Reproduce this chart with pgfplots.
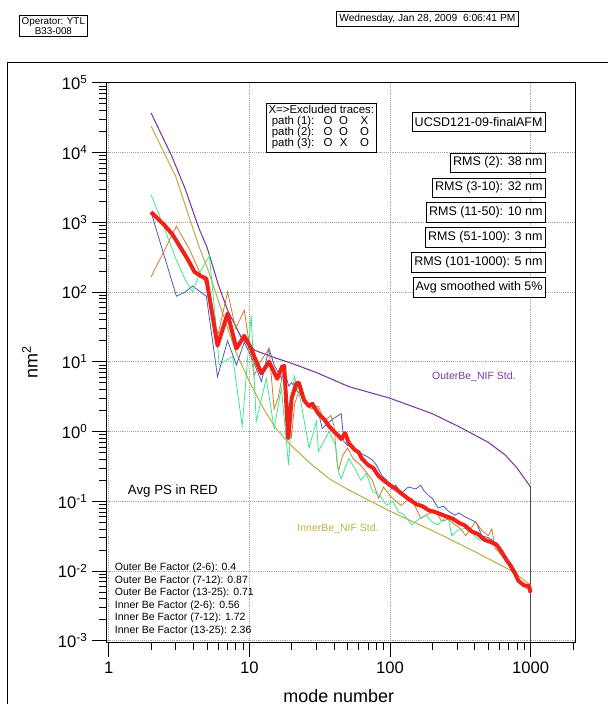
\documentclass[border=0pt]{standalone}
\usepackage{pgfplots}
\pgfplotsset{compat=1.18}
\usepackage{fontspec}
\setmainfont{Liberation Sans}

\definecolor{cblue}{HTML}{4A5AB8}
\definecolor{corange}{HTML}{D2792A}
\definecolor{cgreen}{HTML}{3DE88A}
\definecolor{cred}{HTML}{F0201A}
\definecolor{cpurple}{HTML}{7A3A9E}
\definecolor{colive}{HTML}{BDB04A}

\newcommand{\fs}[1]{\fontsize{#1}{#1}\selectfont}

\begin{document}
\begin{tikzpicture}
% page frame, in pixel units (y measured from the top)
\begin{scope}[x=0.75pt,y=0.75pt]
\useasboundingbox (0,0) rectangle (610,707);
\draw[line width=0.6pt] (7.5,{707-706}) -- (7.5,{707-63}) -- (610,{707-63});
\node[draw,line width=0.5pt,align=center,inner sep=1.5pt,font=\fs{7.4pt}] at (53.5,{707-26}) {Operator: YTL\\B33-008};
\node[draw,line width=0.5pt,inner sep=2pt,font=\fs{7.7pt}] at (428.5,{707-19}) {Wednesday, Jan 28, 2009\ \ 6:06:41 PM};
\end{scope}

\begin{axis}[
    at={(80.25pt,47.25pt)}, anchor=south west,
    scale only axis, width=352.5pt, height=420.75pt,
    xmode=log, ymode=log,
    xmin=0.968, xmax=2084, ymin=0.00095, ymax=1e5,
    xtick={1,10,100,1000}, xticklabels={1,10,100,1000},
    minor xtick={2,3,4,5,6,7,8,9,20,30,40,50,60,70,80,90,200,300,400,500,600,700,800,900,2000},
    ytick={1e-3,1e-2,1e-1,1,10,100,1000,10000,100000},
    yticklabels={10\textsuperscript{-3},10\textsuperscript{-2},10\textsuperscript{-1},10\textsuperscript{0},10\textsuperscript{1},10\textsuperscript{2},10\textsuperscript{3},10\textsuperscript{4},10\textsuperscript{5}},
    minor ytick={0.002,0.003,0.004,0.005,0.006,0.007,0.008,0.009,
      0.02,0.03,0.04,0.05,0.06,0.07,0.08,0.09,0.2,0.3,0.4,0.5,0.6,0.7,0.8,0.9,
      2,3,4,5,6,7,8,9,20,30,40,50,60,70,80,90,200,300,400,500,600,700,800,900,
      2000,3000,4000,5000,6000,7000,8000,9000,20000,30000,40000,50000,60000,70000,80000,90000},
    /pgf/number format/assume math mode=true,
    tick pos=left, tick align=outside,
    major tick length=11pt, minor tick length=5.5pt,
    every tick/.style={black, line width=0.6pt},
    grid=major, major grid style={densely dotted, gray!70, line width=0.5pt},
    minor grid style={draw=none},
    axis line style={line width=0.7pt},
    tick label style={font=\fs{12.5pt}},
    xlabel={mode number}, ylabel={nm\textsuperscript{2}},
    label style={font=\fs{13.5pt}},
    xlabel style={at={(axis description cs:0.495,-0.096)}, anchor=center},
    ylabel style={at={(axis description cs:-0.164,0.5)}, anchor=center},
]
% NIF standards
\addplot[cpurple, line width=0.8pt] coordinates {
 (2,37000) (2.8,9000) (3.5,3000) (4.4,800) (5,440) (6,130) (7,55) (8.8,22)
 (10,17) (11,14.5) (15,11.5) (20,9.5) (30,7) (51,4.4) (100,3.0) (200,1.8)
 (310,1.17) (500,0.7) (660,0.46) (800,0.3) (1000,0.16)};
\addplot[gray!60!black, line width=0.6pt] coordinates {(1000,0.16) (1000,0.00095)};
\addplot[colive, line width=0.8pt] coordinates {
 (2,24000) (3,4500) (4.4,440) (5,230) (6.4,52) (8,14) (10,5.2) (12.5,2.2)
 (15.5,1.1) (20,0.62) (28,0.33) (37,0.21) (51,0.145) (100,0.072) (200,0.038)
 (400,0.019) (735,0.01) (1000,0.0063)};
% individual traces
\addplot[cblue, line width=0.6pt] coordinates {
 (2,1400) (3.03,87) (3.5,100) (3.95,122) (4.5,100) (4.95,87) (5.94,6.1) (7,20)
 (8.1,9) (9.2,19) (10.3,12) (11.2,8) (12.2,5.2) (13.8,15.5) (15,9) (16.9,5.8)
 (18,7) (19,4.5) (20,5) (22,3.7) (24,3.2) (26.6,2.3) (28.5,2.6) (31,1.9)
 (33,1.1) (36,1.3) (39,1.5) (43,1.7) (45,1.8) (47,0.72) (50,0.63) (55,0.6)
 (60,0.5) (67,0.45) (75,0.39) (80,0.33) (88,0.23) (95,0.2) (103,0.15)
 (110,0.17) (120,0.13) (135,0.16) (153,0.15) (165,0.17) (175,0.14) (189,0.12)
 (200,0.11) (220,0.08) (240,0.085) (260,0.072) (290,0.063) (310,0.068)
 (340,0.06) (380,0.054) (410,0.05) (450,0.032) (500,0.03) (545,0.027)
 (600,0.02) (700,0.012) (800,0.0075) (900,0.0065) (1000,0.006)};
\addplot[corange, line width=0.6pt] coordinates {
 (2,165) (2.5,400) (3.03,880) (3.75,410) (4.4,200) (5,120) (5.5,40) (6,25)
 (7,100) (8,30) (9.2,55) (10.8,6.3) (12,10) (13.8,15.5) (15,2.1) (16,3)
 (17.7,8.6) (19.9,0.8) (21,2.5) (22.5,3.7) (25,2.5) (27.5,2.1) (31,2.3)
 (34,1.4) (38,1.7) (40,1.2) (42,0.37) (43,0.27) (46,0.45) (50,0.58) (55,0.4)
 (60,0.35) (67,0.27) (75,0.2) (83,0.11) (90,0.16) (100,0.12) (110,0.1)
 (120,0.087) (130,0.1) (143,0.11) (155,0.075) (166,0.057) (185,0.065)
 (210,0.072) (233,0.052) (260,0.055) (290,0.046) (320,0.04) (345,0.032)
 (375,0.04) (405,0.051) (450,0.038) (500,0.032) (530,0.04) (560,0.021)
 (620,0.017) (700,0.012) (800,0.0075) (1000,0.005)};
\addplot[cgreen, line width=0.6pt] coordinates {
 (2,2500) (2.5,800) (3,300) (3.5,150) (3.95,100) (4.5,200) (5.2,330) (5.8,33)
 (6.1,9) (7.6,12) (8.9,1.2) (10.3,46) (11.2,1.4) (13.2,5.8) (15,1.1)
 (16.9,4.2) (19,0.33) (20.8,6.3) (23,3) (26.6,0.58) (30,1.4) (31,0.52)
 (37,1.0) (41,0.63) (43,0.27) (45,0.21) (51,0.41) (56,0.3) (62,0.2) (68,0.25)
 (75,0.14) (85,0.12) (95,0.087) (105,0.1) (115,0.07) (125,0.065) (143,0.046)
 (160,0.055) (180,0.063) (200,0.05) (220,0.046) (240,0.055) (260,0.057)
 (275,0.032) (300,0.038) (345,0.041) (380,0.035) (430,0.028) (480,0.027)};
% average
\addplot[cred, line width=3pt, line join=round] coordinates {
 (2,1400) (2.5,900) (2.84,670) (3.3,410) (3.7,280) (4.07,195) (4.5,170)
 (4.95,155) (5.94,17) (7,49) (8.1,15.5) (9.2,23.5) (10.3,15.5) (11,11)
 (12.2,6.8) (13.8,10) (15.8,5.7) (17.1,8.5) (17.7,8.7) (18.9,0.8) (20,3)
 (21.6,4.9) (22.5,5) (24.5,2.8) (26.6,2.3) (28,2.5) (31,1.8) (34,1.5)
 (37,1.18) (40,1.0) (43,0.87) (45,0.78) (48,0.95) (51,0.68) (56,0.55)
 (60,0.5) (63,0.41) (70,0.33) (76,0.3) (83,0.23) (90,0.2) (100,0.17)
 (110,0.15) (120,0.13) (130,0.115) (143,0.1) (155,0.09) (170,0.085)
 (189,0.074) (210,0.07) (230,0.065) (250,0.061) (280,0.056) (310,0.049)
 (340,0.045) (380,0.037) (420,0.034) (470,0.028) (520,0.026) (570,0.024)
 (620,0.019) (680,0.014) (720,0.012) (770,0.0095) (820,0.0072) (900,0.0062)
 (975,0.0061) (1000,0.0049)};
\end{axis}

% annotations, in pixel units (y measured from the top)
\begin{scope}[x=0.75pt,y=0.75pt]
\node[draw,line width=0.5pt,inner sep=1.5pt,anchor=north west,font=\fs{8.6pt}]
  at (267,{707-103}) {\renewcommand{\arraystretch}{0.85}%
  \begin{tabular}{@{}l@{\hspace{7pt}}c@{\hspace{5pt}}c@{\hspace{5pt}}c@{}}
  \multicolumn{4}{@{}l@{}}{X=>Excluded traces:}\\
  \ path (1): & O & O & X\\
  \ path (2): & O & O & O\\
  \ path (3): & O & X & O
  \end{tabular}};
\tikzset{rbox/.style={draw,line width=0.5pt,anchor=east,inner xsep=2pt,inner ysep=0pt,minimum height=14.5pt,font=\fs{9.4pt},fill=white}}
\node[rbox] at (547,{707-122}) {UCSD121-09-finalAFM};
\node[rbox] at (547,{707-163}) {RMS (2): 38 nm};
\node[rbox] at (547,{707-188}) {RMS (3-10): 32 nm};
\node[rbox] at (547,{707-213}) {RMS (11-50): 10 nm};
\node[rbox] at (547,{707-238}) {RMS (51-100): 3 nm};
\node[rbox] at (547,{707-263}) {RMS (101-1000): 5 nm};
\node[rbox] at (547,{707-288}) {Avg smoothed with 5\%};
\node[anchor=west,inner sep=0pt,text=cpurple,font=\fs{7.9pt}] at (433,{707-378}) {OuterBe\_NIF Std.};
\node[anchor=west,inner sep=0pt,text=colive,font=\fs{7.9pt}] at (298,{707-530}) {InnerBe\_NIF Std.};
\node[anchor=west,inner sep=0pt,font=\fs{10pt}] at (128,{707-492}) {Avg PS in RED};
\begin{scope}[every node/.style={anchor=west,inner sep=0pt,font=\fs{7.9pt}}]
\node at (115,{707-569}) {Outer Be Factor (2-6): 0.4};
\node at (115,{707-582}) {Outer Be Factor (7-12): 0.87};
\node at (115,{707-594}) {Outer Be Factor (13-25): 0.71};
\node at (115,{707-607}) {Inner Be Factor (2-6): 0.56};
\node at (115,{707-619}) {Inner Be Factor (7-12): 1.72};
\node at (115,{707-632}) {Inner Be Factor (13-25): 2.36};
\end{scope}
\end{scope}
\end{tikzpicture}
\end{document}
